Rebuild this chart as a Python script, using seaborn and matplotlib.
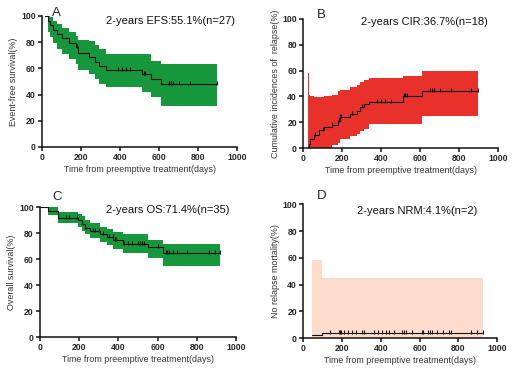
import numpy as np
import matplotlib
matplotlib.use("Agg")
import matplotlib.pyplot as plt
import seaborn as sns

###############################################################################
# Panel A: event-free survival
efs_t = [17, 28, 40, 55, 75, 100, 140, 175, 185, 240, 270, 290, 330, 510, 560, 610, 895]
efs_est = [100, 96, 93, 89, 86, 83, 79, 76, 72, 69, 65, 62, 58.6, 55.5, 52, 48, 48]
efs_up = [100, 100, 99, 96, 94, 91, 88, 85, 82, 81, 78, 75, 71, 71, 66, 63, 63]
efs_lo = [100, 88, 84, 79, 75, 71, 67, 63, 59, 56, 52, 48, 46, 42, 38, 31, 31]
efs_cens = [180, 390, 410, 430, 450, 510, 520, 530, 650, 660, 670, 700, 760, 895]

# Panel B: cumulative incidence of relapse
cir_t = [20, 25, 29, 37, 54, 80, 105, 148, 177, 187, 242, 276, 293, 310, 336, 510, 610, 895]
cir_est = [0, 1, 3, 7, 10, 14, 16, 18, 21, 24, 26, 29, 32, 34, 36, 40, 44, 44]
cir_up = [0, 58, 41, 40, 39.5, 39.5, 40, 41, 44, 45, 47, 49, 51, 53, 54, 56, 60, 60]
cir_lo = [0, 0, 0, 0, 0, 0, 0, 2, 4, 7, 9, 11, 13, 15, 19, 19, 25, 25]
cir_cens = [60, 100, 150, 185, 190, 195, 250, 300, 380, 400, 420, 450, 515, 520, 530,
            650, 660, 670, 700, 760, 860, 895]

# Panel C: overall survival
os_t = [0, 43, 94, 196, 213, 230, 255, 306, 340, 374, 425, 553, 629, 920]
os_est = [100, 97, 92, 90, 87, 84, 82, 79, 77, 75, 72, 69, 65, 65]
os_up = [100, 100, 96, 95, 93, 90, 88, 85, 83, 81, 79, 75, 72, 72]
os_lo = [100, 94, 88, 85, 82, 79, 76, 73, 71, 68, 65, 61, 55, 55]
os_cens = [130, 150, 190, 230, 270, 280, 300, 320, 350, 370, 380, 390, 430, 450,
           470, 500, 510, 520, 530, 600, 640, 650, 660, 680, 700, 750, 860, 890, 920]

# Panel D: non relapse mortality
nrm_t = [46, 98, 925]
nrm_est = [2, 4.1, 4.1]
nrm_up = [58, 45, 45]
nrm_lo = [0, 0, 0]
nrm_cens = [140, 187, 192, 197, 209, 229, 252, 272, 303, 312, 363, 384, 406, 428, 440,
            466, 509, 521, 529, 563, 611, 620, 646, 654, 663, 688, 723, 753, 760, 863,
            894, 925]

###############################################################################

sns.set_style("ticks")
plt.rcParams['font.family'] = ['Liberation Sans', 'DejaVu Sans']

fig = plt.figure(figsize=(5.2, 3.72), dpi=100)


def km_panel(rect, t, est, lo, up, cens, band, letter, label, note,
             letter_xy, note_xy):
    ax = fig.add_axes(rect)
    t = np.asarray(t)
    est = np.asarray(est)
    ax.fill_between(t, lo, up, step='post', color=band, lw=0)
    sns.lineplot(x=t, y=est, drawstyle='steps-post', color='#111111',
                 lw=0.8, estimator=None, ax=ax)
    idx = np.searchsorted(t, cens, side='right') - 1
    ax.plot(cens, est[idx] + 0.8, ls='none', marker='|', ms=2.6, mew=0.8,
            color='#111111')
    ax.set_xlim(0, 1000)
    ax.set_ylim(0, 100)
    ax.set_xticks(range(0, 1001, 200))
    ax.set_yticks(range(0, 101, 20))
    for s in ['top', 'right']:
        ax.spines[s].set_visible(False)
    for s in ['left', 'bottom']:
        ax.spines[s].set_linewidth(1.1)
        ax.spines[s].set_color('#111111')
    ax.tick_params(length=3, width=1.1, labelsize=6.2, pad=1.5, color='#111111')
    for lab in ax.get_xticklabels() + ax.get_yticklabels():
        lab.set_fontweight('bold')
    ax.set_xlabel('Time from preemptive treatment(days)', fontsize=6.4,
                  color='#333333', labelpad=2)
    ax.set_ylabel(label, fontsize=6.4, color='#333333', labelpad=2)
    ax.text(letter_xy[0], letter_xy[1], letter, transform=ax.transAxes,
            fontsize=9.5, ha='left', va='center')
    ax.text(note_xy[0], note_xy[1], note, transform=ax.transAxes,
            fontsize=8, ha='center', va='center', color='#111111')
    return ax


km_panel([0.081, 0.605, 0.375, 0.352], efs_t, efs_est, efs_lo, efs_up, efs_cens,
         '#17973b', 'A', 'Event-free survival(%)', '2-years EFS:55.1%(n=27)',
         (0.05, 1.02), (0.66, 0.965))
km_panel([0.583, 0.602, 0.375, 0.347], cir_t, cir_est, cir_lo, cir_up, cir_cens,
         '#e8312b', 'B', 'Cumulative incidences of  relapse(%)',
         '2-years CIR:36.7%(n=18)', (0.07, 1.03), (0.62, 0.975))
km_panel([0.077, 0.094, 0.377, 0.349], os_t, os_est, os_lo, os_up, os_cens,
         '#17973b', 'C', 'Overall survival(%)', '2-years OS:71.4%(n=35)',
         (0.065, 1.08), (0.65, 0.975))
km_panel([0.583, 0.091, 0.373, 0.360], nrm_t, nrm_est, nrm_lo, nrm_up, nrm_cens,
         '#fddccb', 'D', 'No relapse mortality(%)', '2-years NRM:4.1%(n=2)',
         (0.07, 1.06), (0.59, 0.95))

fig.savefig('out.png', dpi=100)
